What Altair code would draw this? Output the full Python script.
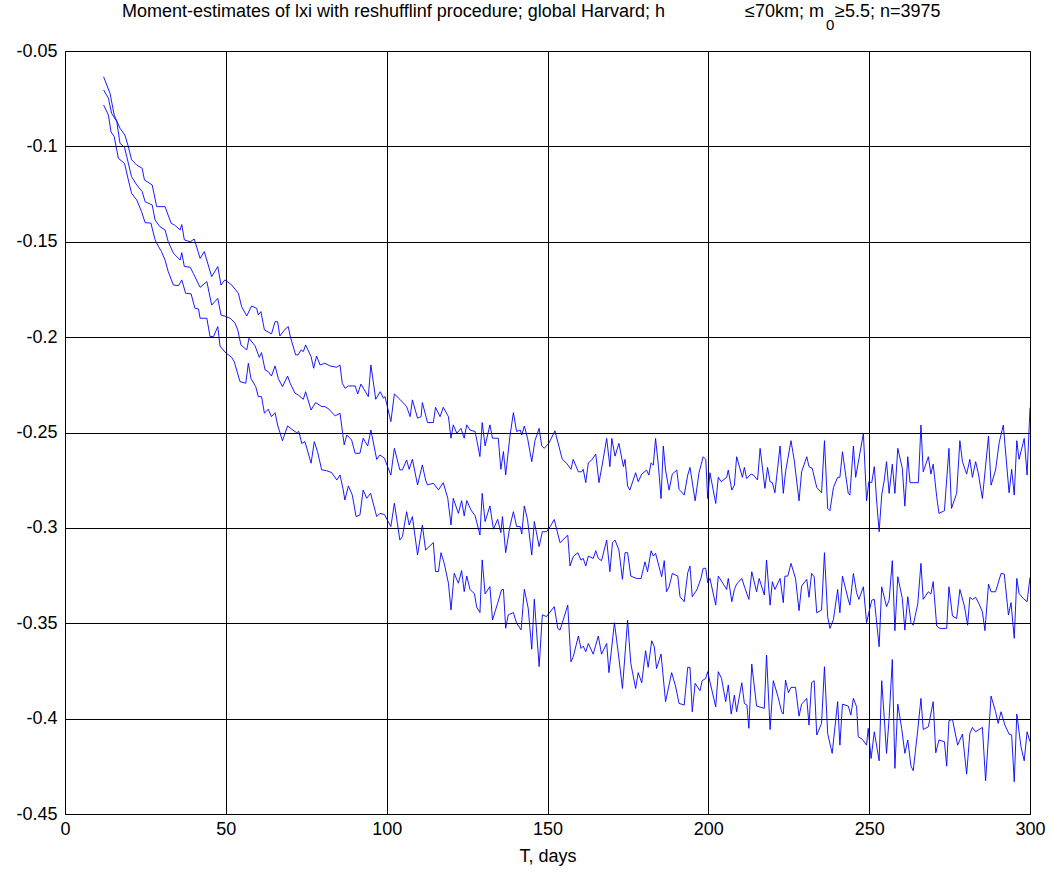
import altair as alt
import pandas as pd

# ---- data ----
A_T = [12, 14, 15.3, 17.1, 18.6, 19.7, 20.7, 22.3, 24, 24.7, 27.1, 28.5, 31.1, 33, 34, 35.8, 36.3, 37.1, 38.9, 40.2,
       42, 43.3, 45.6, 47.5, 48.5, 49.7, 51.8, 53.9, 54.9, 56.5, 58, 59.6, 60.1, 60.9, 62, 64.2, 65.3, 66.1, 66.8, 68.4,
       69.4, 70.1, 71.7, 72.5, 73.4, 74.1, 74.8, 76.5, 77.3, 78.2, 79.3, 80.8, 82.4, 84.5, 85.5, 86.2, 87.1, 88.1, 90.2, 91,
       92, 94.3, 95.1, 96.6, 98, 99, 99.5, 101.3, 102.4, 104.1, 106.2, 107.3, 108, 109.6, 110.7, 111.1, 112.7, 114.5, 115.2, 116.6,
       117.6, 119.2, 120, 120.7, 121.8, 123.1, 124.1, 124.9, 125.9, 127.5, 129, 129.7, 130.6, 132.1, 132.9, 134.7, 135.5, 136.3, 137, 138.3,
       139.4, 140.4, 141.5, 142, 142.8, 143.8, 145.1, 146.1, 147.4, 148.2, 149, 150.5, 152.3, 153.6, 154.6, 156, 157.3, 158, 159.6, 160.6,
       161.1, 161.9, 162.7, 163.7, 165, 166, 167, 168.4, 169.4, 170, 171, 172.2, 173.6, 174.1, 174.9, 175.6, 177.4, 178.2, 179.3, 180.8,
       181.5, 182.2, 182.9, 183.6, 184.5, 185.3, 186, 186.7, 187.8, 188.8, 190.2, 190.9, 192.5, 193.6, 194.3, 195.9, 197.1, 198.4, 199.2, 199.8,
       200.5, 202.3, 203.1, 204, 205.7, 206.2, 207.3, 208.1, 208.8, 210.6, 211.2, 211.9, 213.3, 214, 215.3, 216.1, 217.6, 218.4, 219.2, 219.9,
       220.7, 222.3, 223.3, 224, 225.7, 226.7, 228.2, 229, 230.6, 231.3, 232.3, 233.7, 235.2, 236.1, 237.1, 237.8, 238.9, 240.2, 240.9, 241.7,
       243.5, 244, 245.1, 245.8, 248.2, 249.2, 249.9, 250.8, 251.6, 252.3, 253.1, 253.9, 254.7, 255.4, 256.2, 257.2, 258, 258.9, 260.3, 261.1,
       262, 262.7, 265.3, 266.1, 266.8, 268.4, 269.2, 269.9, 271, 271.7, 273.4, 274.8, 275.6, 277.2, 278.2, 279, 280.3, 281.3, 282.1, 283.1,
       283.9, 285.2, 287.1, 287.9, 289.3, 290.4, 291.7, 293.5, 294.3, 295.1, 295.9, 296.6, 298.2, 299.1, 300]
A_V = [-0.0635, -0.0722, -0.0836, -0.0905, -0.094, -0.1002, -0.107, -0.1098, -0.1115, -0.1176, -0.1202, -0.1316, -0.1316, -0.1403, -0.1412, -0.1438, -0.141, -0.149, -0.150, -0.1486,
       -0.1587, -0.1552, -0.1683, -0.163, -0.1727, -0.170, -0.1726, -0.177, -0.184, -0.1889, -0.1837, -0.1849, -0.1884, -0.1866, -0.1962, -0.1983, -0.1919, -0.1919, -0.1994, -0.1959,
       -0.1945, -0.2001, -0.2093, -0.2093, -0.2067, -0.2076, -0.2041, -0.2102, -0.2163, -0.2099, -0.2146, -0.2137, -0.2151, -0.2158, -0.2146, -0.2242, -0.2268, -0.2256, -0.2256, -0.2298,
       -0.2246, -0.2312, -0.2146, -0.2326, -0.2286, -0.232, -0.2312, -0.2443, -0.2298, -0.2326, -0.2364, -0.2417, -0.2329, -0.2425, -0.2417, -0.2343, -0.2448, -0.2448, -0.2368, -0.2417,
       -0.2368, -0.2417, -0.253, -0.2460, -0.2504, -0.2478, -0.253, -0.2460, -0.2487, -0.2495, -0.2626, -0.2448, -0.2570, -0.2460, -0.253, -0.253, -0.2693, -0.2600, -0.2723, -0.2522,
       -0.2396, -0.2495, -0.2487, -0.2513, -0.2466, -0.253, -0.2653, -0.2543, -0.2478, -0.2570, -0.2583, -0.2554, -0.2491, -0.2575, -0.2641, -0.2662, -0.2693, -0.2641, -0.2706, -0.2706,
       -0.2693, -0.2763, -0.2659, -0.2645, -0.2613, -0.2763, -0.2671, -0.2531, -0.2679, -0.2531, -0.2624, -0.2557, -0.2679, -0.2641, -0.2781, -0.2802, -0.2711, -0.2758, -0.2718, -0.2697,
       -0.2723, -0.2659, -0.2671, -0.2531, -0.2679, -0.2846, -0.2571, -0.2697, -0.2802, -0.2718, -0.2697, -0.2798, -0.2828, -0.2723, -0.2683, -0.2858, -0.2711, -0.2627, -0.2641, -0.2846,
       -0.2711, -0.2872, -0.2735, -0.2758, -0.2735, -0.2697, -0.2802, -0.2776, -0.2627, -0.2735, -0.2683, -0.2741, -0.2718, -0.2723, -0.2749, -0.2583, -0.2793, -0.2683, -0.2758, -0.2763,
       -0.2816, -0.2571, -0.2819, -0.2706, -0.2543, -0.2645, -0.2858, -0.2706, -0.2627, -0.2679, -0.2688, -0.2788, -0.2816, -0.2543, -0.2898, -0.2910, -0.2788, -0.2735, -0.2735, -0.2601,
       -0.2819, -0.2828, -0.2571, -0.2735, -0.2505, -0.2858, -0.2758, -0.2763, -0.2679, -0.2854, -0.3020, -0.2828, -0.2749, -0.2653, -0.2819, -0.2666, -0.2819, -0.2583, -0.2688, -0.2886,
       -0.2627, -0.2763, -0.2763, -0.2461, -0.2706, -0.2627, -0.2718, -0.2666, -0.2837, -0.2924, -0.2910, -0.2583, -0.2898, -0.2819, -0.2543, -0.2653, -0.2718, -0.2641, -0.2735, -0.2653,
       -0.2711, -0.2846, -0.2519, -0.2776, -0.2697, -0.2554, -0.2461, -0.2816, -0.2693, -0.2828, -0.2543, -0.2641, -0.2531, -0.2723, -0.2370]

B_T = [12, 13.5, 14.5, 16.1, 17.1, 18.5, 19.2, 20.7, 22.3, 24, 24.9, 27.1, 28, 29.5, 31.1, 32.1, 33.7, 35.8, 36.3, 37.1,
       38.9, 39.9, 42, 44.1, 45.6, 47.5, 48.5, 49.7, 51.3, 52.8, 53.7, 54.7, 56.5, 57.2, 59.1, 60.4, 61.1, 62.2, 63.2, 64.2,
       65.3, 66.3, 67.6, 69.2, 70, 71.5, 72.5, 74.1, 74.8, 76.5, 77.9, 79.8, 80.8, 82.1, 82.7, 84, 85.5, 86.8, 87.6, 89.1,
       90.2, 91.7, 92.7, 94.1, 95.1, 96.9, 97.9, 99.3, 101.3, 102.4, 104.1, 104.9, 106.2, 107, 108, 109.6, 111.1, 112.1, 112.7, 114.5,
       116.1, 117.6, 119, 120, 120.7, 122.3, 123.3, 124.1, 124.9, 126.2, 127.5, 129, 129.7, 130.6, 132.1, 133.2, 134.5, 135.5, 136, 137,
       138.3, 139.4, 140.4, 141.5, 142, 142.8, 143.8, 145.1, 145.9, 147.4, 148.4, 149.7, 150.8, 152.1, 153.9, 156.3, 157, 158, 159.4, 160.4,
       161.1, 161.9, 162.7, 164.2, 165, 165.8, 166.8, 168.4, 169.4, 170.2, 171, 172.2, 173.3, 174.1, 174.9, 175.9, 177.7, 179.1, 180.3, 181.1,
       182.2, 182.9, 183.6, 185.5, 186.3, 187, 187.8, 188.8, 190.5, 191.2, 192.5, 193.6, 194.3, 195, 196.4, 197.7, 198.4, 199.2, 199.8, 200.5,
       202.3, 203.1, 204.7, 205.7, 206.2, 207.3, 208.1, 208.8, 210.4, 211.4, 212.6, 213.5, 215, 215.8, 217.4, 218.1, 219.2, 219.9, 220.7, 222.3,
       223.3, 223.8, 224.7, 225.7, 227.1, 228.2, 229, 230.6, 231.3, 232.1, 232.9, 233.7, 235.2, 236.1, 237.1, 237.8, 238.9, 240.2, 240.9, 241.7,
       243.5, 244, 245.1, 246.1, 246.8, 248.2, 249.2, 250.8, 251.6, 253.1, 253.9, 255.4, 256.2, 257.2, 258, 258.9, 260.3, 261.1, 262, 263,
       263.7, 265.1, 266.1, 266.8, 268.4, 269.2, 269.9, 271, 272, 274.1, 274.8, 275.9, 277.2, 278.2, 279.6, 280.6, 281.3, 282.1, 283.1, 284.1,
       285.2, 286, 287.1, 287.9, 289.3, 291, 292, 293.3, 294.1, 295.1, 295.9, 296.6, 297.9, 299.1, 300]
B_V = [-0.0704, -0.0748, -0.0827, -0.087, -0.0984, -0.1005, -0.1054, -0.1159, -0.1202, -0.1237, -0.129, -0.1307, -0.1386, -0.1421, -0.1438, -0.150, -0.156, -0.1596, -0.1557, -0.163,
       -0.1633, -0.1666, -0.1739, -0.1709, -0.1832, -0.1797, -0.1884, -0.1890, -0.1901, -0.1924, -0.1962, -0.2041, -0.2067, -0.2006, -0.2046, -0.2106, -0.2081, -0.2172, -0.2181, -0.2204,
       -0.2151, -0.2216, -0.226, -0.2204, -0.2242, -0.2294, -0.2303, -0.2326, -0.2286, -0.2382, -0.2343, -0.2364, -0.2364, -0.2378, -0.239, -0.2413, -0.2399, -0.2565, -0.2513, -0.2539,
       -0.2609, -0.2609, -0.253, -0.2571, -0.2487, -0.2641, -0.2618, -0.2635, -0.2723, -0.2583, -0.2696, -0.2696, -0.2644, -0.2693, -0.2640, -0.2775, -0.267, -0.2749, -0.2775, -0.2766,
       -0.2801, -0.2763, -0.2845, -0.2985, -0.2845, -0.2924, -0.2857, -0.2937, -0.2857, -0.2906, -0.2937, -0.3037, -0.2819, -0.2967, -0.2885, -0.3007, -0.2955, -0.3025, -0.2941, -0.3130,
       -0.2993, -0.2915, -0.2993, -0.2993, -0.3032, -0.2885, -0.2958, -0.3142, -0.2967, -0.3098, -0.3020, -0.3020, -0.2994, -0.2956, -0.3078, -0.3038, -0.3200, -0.3151, -0.3130, -0.3169,
       -0.3160, -0.3200, -0.3148, -0.3160, -0.3120, -0.3160, -0.3172, -0.3064, -0.3230, -0.3078, -0.3064, -0.3116, -0.3270, -0.3130, -0.3130, -0.3253, -0.3265, -0.3265, -0.3178, -0.3230,
       -0.3120, -0.3148, -0.3134, -0.3256, -0.3172, -0.3335, -0.3309, -0.3239, -0.3253, -0.3361, -0.3387, -0.3235, -0.3200, -0.3361, -0.3326, -0.3265, -0.3212, -0.3212, -0.3288, -0.3265,
       -0.3405, -0.3253, -0.3295, -0.3323, -0.3265, -0.3387, -0.3323, -0.3295, -0.3265, -0.3317, -0.3375, -0.3230, -0.3335, -0.3265, -0.3352, -0.3169, -0.3405, -0.3282, -0.3323, -0.3265,
       -0.3392, -0.3253, -0.3253, -0.3186, -0.3265, -0.3434, -0.3305, -0.3270, -0.3364, -0.3239, -0.3256, -0.3445, -0.3431, -0.3130, -0.3466, -0.3527, -0.3480, -0.3323, -0.3445, -0.3253,
       -0.3375, -0.3405, -0.3239, -0.3340, -0.3375, -0.3309, -0.3497, -0.3379, -0.3375, -0.3623, -0.3309, -0.3413, -0.3379, -0.3172, -0.3539, -0.3256, -0.3370, -0.3536, -0.3361, -0.3497,
       -0.3510, -0.3399, -0.3186, -0.3375, -0.3335, -0.3347, -0.3282, -0.3515, -0.3527, -0.3527, -0.3309, -0.3462, -0.3475, -0.3323, -0.3410, -0.3510, -0.3364, -0.3375, -0.3364, -0.3396,
       -0.3440, -0.3539, -0.3295, -0.3335, -0.3335, -0.3239, -0.3242, -0.3457, -0.3392, -0.3579, -0.3265, -0.3344, -0.3370, -0.3387, -0.3260]

C_T = [12, 13.5, 14.3, 15.3, 16.6, 18.5, 19.7, 20.7, 22.3, 23.8, 24.9, 26.7, 28, 29.1, 30, 31.1, 32.1, 33.7, 35.3, 36.3,
       37.5, 39.2, 40.4, 41.5, 42, 44.1, 45.1, 46.2, 47.5, 48.2, 49.7, 51.8, 52.6, 54.4, 56.2, 57, 57.8, 59.3, 60.1, 61.1,
       62, 63.2, 64.2, 65.3, 66.1, 67.6, 69.2, 70.5, 72, 72.7, 73.6, 74.6, 76.5, 77.5, 78.5, 79.8, 81.3, 82.9, 84.5, 85.5,
       86.5, 87, 88.1, 89.3, 90.5, 91.7, 92.7, 93.8, 95, 96.9, 97.9, 99.3, 101.3, 102.4, 104.1, 104.9, 106.2, 107, 108, 109.6,
       111.1, 112.1, 114.5, 115.2, 116.1, 116.9, 117.9, 119.2, 120, 121, 122.3, 123.3, 124.1, 124.9, 125.9, 127.3, 128, 129, 129.7, 130.6,
       132.1, 132.9, 134.5, 135.7, 136.3, 137, 137.8, 139.4, 140.4, 141.8, 142.8, 144, 145.1, 145.9, 147.4, 148.4, 149.7, 152.1, 153.2, 153.9,
       156.3, 157.3, 158, 159.6, 160.4, 161.1, 161.9, 162.7, 164.2, 165.8, 166.8, 168.4, 169.1, 170.8, 172, 173.3, 174.9, 175.9, 177.4, 178.2,
       179.3, 180.5, 181.3, 182.4, 183.2, 183.9, 185.3, 186.7, 188.6, 189.8, 190.9, 192.5, 193.6, 194.3, 195, 195.9, 197.4, 198.1, 199.2, 199.8,
       200.5, 202.3, 203.1, 204.1, 205.4, 206.2, 207.1, 208.1, 208.8, 210.4, 211.2, 212, 212.6, 213.5, 215, 217.4, 218.1, 219.2, 220.2, 221.6,
       222.8, 223.3, 224, 224.9, 225.7, 227.1, 228.2, 229, 230.6, 231.3, 232.1, 232.9, 233.7, 235.2, 236.1, 237.1, 238.5, 240.2, 240.9, 241.7,
       243.5, 244.3, 245.1, 246.1, 246.6, 247.9, 249.2, 249.7, 250.6, 251.6, 253.1, 253.9, 254.7, 255.4, 256.2, 257.2, 258, 258.9, 260.1, 261.1,
       262, 263, 263.7, 265.1, 266.1, 266.8, 268.4, 269.9, 270.7, 271.7, 273.4, 274.1, 274.8, 275.9, 277.5, 279, 280.3, 281.3, 282.1, 283.1,
       285.2, 286.2, 287.9, 289.3, 290.1, 291, 292.2, 293.5, 294.3, 295.1, 295.9, 297.2, 298.2, 299.1, 300]
C_V = [-0.0783, -0.0836, -0.0923, -0.0949, -0.1063, -0.1089, -0.1176, -0.1246, -0.1281, -0.1342, -0.140, -0.1402, -0.149, -0.1526, -0.1552, -0.1596, -0.1657, -0.1727, -0.173, -0.170,
       -0.177, -0.1773, -0.1849, -0.1852, -0.1901, -0.1901, -0.1998, -0.1996, -0.1945, -0.2047, -0.2078, -0.2106, -0.2128, -0.2233, -0.2242, -0.2137, -0.2216, -0.226, -0.2312, -0.2312,
       -0.2399, -0.2378, -0.2417, -0.2396, -0.2461, -0.2543, -0.2466, -0.2483, -0.2501, -0.2495, -0.2557, -0.2548, -0.2661, -0.2548, -0.2600, -0.2696, -0.27, -0.2710, -0.2749, -0.2723,
       -0.2801, -0.2854, -0.278, -0.2827, -0.2941, -0.2932, -0.2801, -0.2845, -0.2819, -0.2941, -0.2924, -0.2930, -0.2993, -0.2871, -0.3063, -0.3046, -0.2915, -0.2985, -0.2941, -0.3142,
       -0.2985, -0.3116, -0.3077, -0.3229, -0.3229, -0.3130, -0.3186, -0.3290, -0.343, -0.3238, -0.3290, -0.3224, -0.3334, -0.3252, -0.3322, -0.3346, -0.3416, -0.3444, -0.3168, -0.3346,
       -0.3308, -0.3483, -0.3395, -0.3325, -0.3322, -0.3526, -0.3456, -0.3444, -0.350, -0.3535, -0.3322, -0.3421, -0.3636, -0.3374, -0.3727, -0.3456, -0.3465, -0.3413, -0.3527, -0.3536,
       -0.3405, -0.3702, -0.3676, -0.3567, -0.3632, -0.3620, -0.3649, -0.3606, -0.3662, -0.3567, -0.3662, -0.3606, -0.3759, -0.3497, -0.3655, -0.3842, -0.3483, -0.3710, -0.3842, -0.3759,
       -0.3812, -0.3644, -0.3731, -0.3592, -0.3623, -0.3737, -0.3662, -0.3911, -0.3759, -0.3829, -0.3920, -0.3929, -0.3731, -0.3731, -0.3964, -0.3815, -0.3854, -0.3801, -0.3789, -0.3754,
       -0.3807, -0.3938, -0.3754, -0.3789, -0.3911, -0.3824, -0.3976, -0.3877, -0.3964, -0.3812, -0.3920, -0.3929, -0.4051, -0.3714, -0.3934, -0.3946, -0.3667, -0.4057, -0.3801, -0.3882,
       -0.3964, -0.3976, -0.3798, -0.3864, -0.3836, -0.3836, -0.3987, -0.3924, -0.3894, -0.4034, -0.3812, -0.3801, -0.4086, -0.4025, -0.3728, -0.4078, -0.4182, -0.3911, -0.4139, -0.3924,
       -0.3934, -0.3981, -0.3894, -0.3938, -0.4095, -0.4109, -0.4139, -0.4051, -0.4209, -0.4069, -0.4221, -0.3801, -0.3999, -0.4182, -0.3999, -0.3690, -0.4261, -0.3924, -0.4051, -0.4182,
       -0.4112, -0.4249, -0.4273, -0.4060, -0.3894, -0.4057, -0.4043, -0.3911, -0.4179, -0.4112, -0.4121, -0.4249, -0.4011, -0.4004, -0.4139, -0.4081, -0.4291, -0.4078, -0.4046, -0.4069,
       -0.4046, -0.4326, -0.3882, -0.3964, -0.4025, -0.3964, -0.4034, -0.4081, -0.4086, -0.4331, -0.3976, -0.4147, -0.4221, -0.4069, -0.4121]

X_TICKS = [0, 50, 100, 150, 200, 250, 300]
Y_TICKS = [-0.45, -0.4, -0.35, -0.3, -0.25, -0.2, -0.15, -0.1, -0.05]

TITLE_1 = "Moment-estimates of lxi with reshufflinf procedure; global Harvard; h"
TITLE_2 = "\u226470km; m"
TITLE_SUB = "0"
TITLE_3 = "\u22655.5; n=3975"

rows = []
for name, ts, vs in (("upper", A_T, A_V), ("middle", B_T, B_V), ("lower", C_T, C_V)):
    for i, (t, v) in enumerate(zip(ts, vs)):
        rows.append({"series": name, "T": t, "value": v, "idx": i})
df = pd.DataFrame(rows)

FONT = "Liberation Sans"
W, H = 965, 763

lines = alt.Chart(df).mark_line(color="#0000ff", strokeWidth=0.9, clip=True).encode(
    x=alt.X("T:Q",
            scale=alt.Scale(domain=[0, 300], nice=False, zero=False),
            axis=alt.Axis(values=X_TICKS, title="T, days", grid=True, gridColor="#000000",
                          gridOpacity=1, gridWidth=1, domain=False, ticks=False,
                          labelFont=FONT, labelFontSize=18, labelColor="#000000",
                          labelPadding=6, titleFont=FONT, titleFontSize=18,
                          titleFontWeight="normal", titleColor="#000000", titlePadding=9,
                          labelFlush=False)),
    y=alt.Y("value:Q",
            scale=alt.Scale(domain=[-0.45, -0.05], nice=False, zero=False),
            axis=alt.Axis(values=Y_TICKS, title=None, grid=True, gridColor="#000000",
                          gridOpacity=1, gridWidth=1, domain=False, ticks=False,
                          labelFont=FONT, labelFontSize=18, labelColor="#000000",
                          labelPadding=8, labelFlush=False,
                          labelExpr="'-' + format(abs(datum.value), '.2~f')")),
    detail="series:N",
    order="idx:Q",
)

def title_piece(text, x, y, size=18):
    return alt.Chart(pd.DataFrame({"t": [text]})).mark_text(
        align="left", baseline="middle", font=FONT, fontSize=size, color="#000000"
    ).encode(x=alt.value(x), y=alt.value(y), text="t:N")

t1 = title_piece(TITLE_1, 57, -39)
t2 = title_piece(TITLE_2, 680, -39)
t3 = title_piece(TITLE_SUB, 761, -26, 15)
t4 = title_piece(TITLE_3, 770, -39)

chart = alt.layer(lines, t1, t2, t3, t4).properties(
    width=W, height=H,
    autosize=alt.AutoSizeParams(type="none"),
    padding={"left": 65, "top": 51, "right": 22, "bottom": 60},
    background="#ffffff",
).configure_view(stroke="#000000", strokeWidth=1)

chart.save("out.html", embed_options={"renderer": "svg", "actions": False})
